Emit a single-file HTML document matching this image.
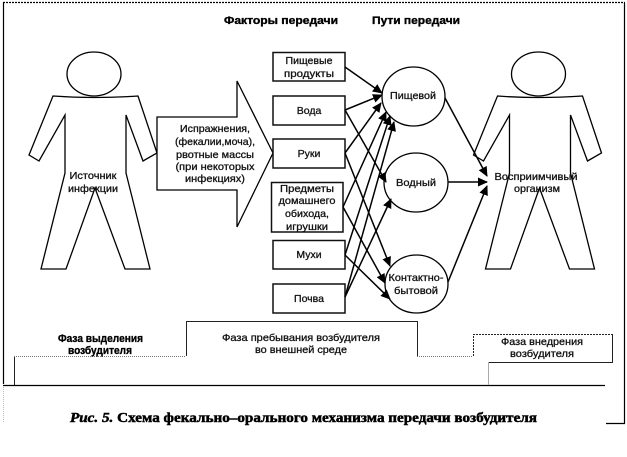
<!DOCTYPE html>
<html lang="ru"><head><meta charset="utf-8"><title>Схема</title>
<style>html,body{margin:0;padding:0;background:#fff}svg{display:block}
text{font-family:"Liberation Sans",sans-serif;font-size:10.5px;fill:#111;text-anchor:middle;stroke:#111;stroke-width:.3}
.b{font-weight:bold;font-size:11px;fill:#000;stroke:#000;stroke-width:.35}
.c{font-family:"Liberation Serif",serif;font-weight:bold;font-size:14px;text-anchor:start;fill:#000;stroke:#000;stroke-width:.5}
</style></head><body>
<svg width="627" height="457" viewBox="0 0 627 457" xmlns="http://www.w3.org/2000/svg">
<defs><marker id="a" markerWidth="11" markerHeight="10" refX="9" refY="4.500" orient="auto" markerUnits="userSpaceOnUse"><path d="M0 0L10 4.500L0 9Z" fill="#000"/></marker>
<g id="p" fill="#fff" stroke="#000" stroke-width="1.300">
<ellipse cx="94" cy="74" rx="27" ry="22"/>
<path d="M53 96Q94 99 138 96L157 153L143 161L126 115L126 173L150 269L125 269L95 188L66 269L41 269L65 173L65 115L39 161L29 155Z"/>
</g></defs>
<g fill="none" stroke="#000">
<path d="M3.500 384V3" stroke-width="1.200"/>
<path d="M3 2.500H625" stroke-width="1.200" stroke-dasharray="2 1"/>
<path d="M624.500 3V423.500H606" stroke-width="1.200"/>
<path d="M3.500 385V423" stroke="#bbb" stroke-dasharray="1 1"/>
<path d="M3 385.500H605" stroke-width="1.200"/>
</g>
<use href="#p"/>
<use href="#p" x="444.500"/>
<path d="M157 117H237V81L273 153L237 227V190H157Z" fill="#fff" stroke="#000" stroke-width="1.300"/>
<g fill="#fff" stroke="#111" stroke-width="1.500">
<rect x="273" y="52.500" width="72" height="28.500"/>
<rect x="273" y="96" width="72" height="29"/>
<rect x="273" y="139" width="72" height="29"/>
<rect x="271.500" y="182.500" width="71.500" height="49.500"/>
<rect x="273" y="240.500" width="72" height="28.500"/>
<rect x="273" y="284" width="72" height="29"/>
</g>
<g fill="#fff" stroke="#000" stroke-width="1.300">
<ellipse cx="413.500" cy="96.500" rx="31.500" ry="29.500"/>
<ellipse cx="416" cy="182.500" rx="32" ry="29.500"/>
<ellipse cx="416.500" cy="284" rx="31.500" ry="29"/>
</g>
<g stroke="#000" stroke-width="1.500">
<line x1="345" y1="67" x2="382" y2="93" marker-end="url(#a)"/>
<line x1="345" y1="110" x2="382" y2="95" marker-end="url(#a)"/>
<line x1="345" y1="110" x2="386" y2="182" marker-end="url(#a)"/>
<line x1="345" y1="153" x2="381" y2="103" marker-end="url(#a)"/>
<line x1="345" y1="153" x2="390" y2="266" marker-end="url(#a)"/>
<line x1="343" y1="207" x2="386" y2="112" marker-end="url(#a)"/>
<line x1="343" y1="207" x2="385" y2="283" marker-end="url(#a)"/>
<line x1="345" y1="255" x2="390" y2="116" marker-end="url(#a)"/>
<line x1="345" y1="255" x2="390" y2="299" marker-end="url(#a)"/>
<line x1="345" y1="297" x2="394" y2="122" marker-end="url(#a)"/>
<line x1="345" y1="297" x2="391" y2="199" marker-end="url(#a)"/>
<line x1="445" y1="98" x2="487" y2="176" marker-end="url(#a)"/>
<line x1="448" y1="182" x2="487" y2="182" marker-end="url(#a)"/>
<line x1="448" y1="282" x2="487" y2="186" marker-end="url(#a)"/>
</g>
<g fill="none" stroke="#222" stroke-width="1">
<path d="M14.500 385V356"/>
<path d="M14 356.500H186" stroke="#777" stroke-dasharray="1 1"/>
<path d="M186.500 356V321.500H417.500V356"/>
<path d="M417 356.500H473" stroke="#777" stroke-dasharray="1 1"/>
<path d="M473.500 356V334.500H612" stroke-dasharray="2 1"/>
<path d="M612.500 334V362.500H488"/>
<path d="M488.500 362V385" stroke="#aaa"/>
</g>
<text class="b" x="281" y="24" textLength="114" lengthAdjust="spacingAndGlyphs">Факторы передачи</text>
<text class="b" x="416" y="24" textLength="88" lengthAdjust="spacingAndGlyphs">Пути передачи</text>
<text x="215" y="132" textLength="70" lengthAdjust="spacingAndGlyphs">Испражнения,</text>
<text x="215" y="145" textLength="80" lengthAdjust="spacingAndGlyphs">(фекалии,моча),</text>
<text x="215" y="158" textLength="78" lengthAdjust="spacingAndGlyphs">рвотные массы</text>
<text x="215" y="170" textLength="79" lengthAdjust="spacingAndGlyphs">(при некоторых</text>
<text x="215" y="182" textLength="60" lengthAdjust="spacingAndGlyphs">инфекциях)</text>
<text x="93" y="179" textLength="47" lengthAdjust="spacingAndGlyphs">Источник</text>
<text x="93" y="192" textLength="50" lengthAdjust="spacingAndGlyphs">инфекции</text>
<text x="309" y="64" textLength="47" lengthAdjust="spacingAndGlyphs">Пищевые</text>
<text x="309" y="77" textLength="50" lengthAdjust="spacingAndGlyphs">продукты</text>
<text x="309" y="114">Вода</text>
<text x="309" y="157">Руки</text>
<text x="307" y="192" textLength="54" lengthAdjust="spacingAndGlyphs">Предметы</text>
<text x="307" y="204" textLength="57" lengthAdjust="spacingAndGlyphs">домашнего</text>
<text x="307" y="217" textLength="44" lengthAdjust="spacingAndGlyphs">обихода,</text>
<text x="307" y="230" textLength="42" lengthAdjust="spacingAndGlyphs">игрушки</text>
<text x="309" y="258">Мухи</text>
<text x="309" y="302">Почва</text>
<text x="413" y="99" textLength="46" lengthAdjust="spacingAndGlyphs">Пищевой</text>
<text x="416" y="186" textLength="40" lengthAdjust="spacingAndGlyphs">Водный</text>
<text x="416" y="281" textLength="55" lengthAdjust="spacingAndGlyphs">Контактно-</text>
<text x="416" y="294" textLength="44" lengthAdjust="spacingAndGlyphs">бытовой</text>
<text x="536" y="180" textLength="83" lengthAdjust="spacingAndGlyphs">Восприимчивый</text>
<text x="537" y="192" textLength="46" lengthAdjust="spacingAndGlyphs">организм</text>
<text class="b" x="100.500" y="342" textLength="85" lengthAdjust="spacingAndGlyphs">Фаза выделения</text>
<text class="b" x="100" y="354" textLength="64" lengthAdjust="spacingAndGlyphs">возбудителя</text>
<text x="301" y="341" textLength="158" lengthAdjust="spacingAndGlyphs">Фаза пребывания возбудителя</text>
<text x="301" y="353" textLength="92" lengthAdjust="spacingAndGlyphs">во внешней среде</text>
<text x="542" y="345" textLength="82" lengthAdjust="spacingAndGlyphs">Фаза внедрения</text>
<text x="542" y="357" textLength="64" lengthAdjust="spacingAndGlyphs">возбудителя</text>
<text class="c" x="70" y="422" textLength="467" lengthAdjust="spacingAndGlyphs"><tspan font-style="italic">Рис. 5.</tspan> Схема фекально–орального механизма передачи возбудителя</text>
</svg>
</body></html>
